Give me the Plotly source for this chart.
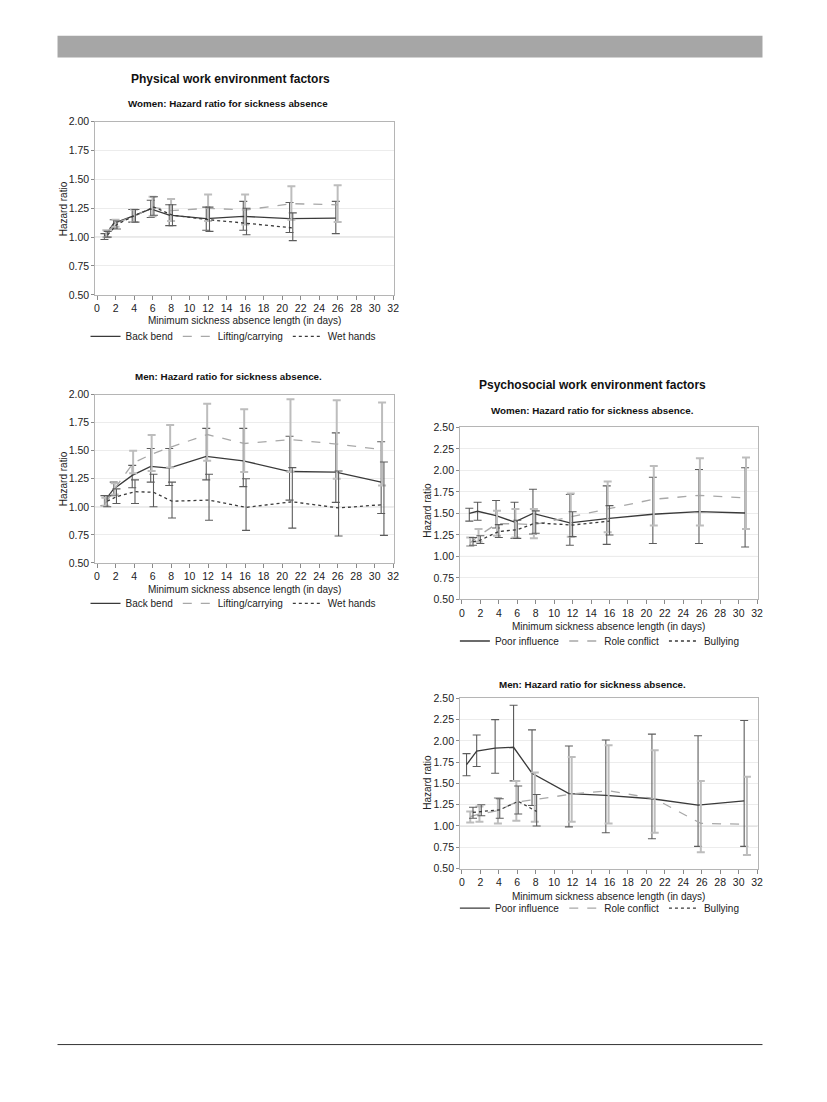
import numpy as np
import plotly.graph_objects as go

W, H = 827, 1102

# ---------------- DATA ----------------
# Panel 1: Physical, Women
p1_back_x = [0.8, 1.8, 3.8, 5.8, 7.8, 11.8, 15.8, 20.8, 25.8]
p1_back_y = [1.00, 1.12, 1.18, 1.245, 1.19, 1.16, 1.18, 1.16, 1.165]
p1_back_lo = [0.98, 1.08, 1.13, 1.17, 1.10, 1.06, 1.06, 1.04, 1.03]
p1_back_hi = [1.03, 1.15, 1.24, 1.32, 1.28, 1.26, 1.31, 1.30, 1.31]
p1_lift_x = [1.0, 2.0, 4.0, 6.0, 8.0, 12.0, 16.0, 21.0, 26.0]
p1_lift_y = [1.03, 1.12, 1.18, 1.26, 1.23, 1.25, 1.235, 1.29, 1.28]
p1_lift_lo = [1.00, 1.09, 1.13, 1.18, 1.14, 1.14, 1.11, 1.15, 1.13]
p1_lift_hi = [1.06, 1.15, 1.24, 1.35, 1.33, 1.37, 1.37, 1.44, 1.45]
p1_wet_x = [1.15, 2.15, 4.15, 6.15, 8.15, 12.15, 16.15, 21.15]
p1_wet_y = [1.02, 1.11, 1.19, 1.26, 1.19, 1.15, 1.12, 1.08]
p1_wet_lo = [1.00, 1.07, 1.13, 1.19, 1.10, 1.05, 1.02, 0.97]
p1_wet_hi = [1.05, 1.14, 1.24, 1.35, 1.28, 1.26, 1.25, 1.21]

# Panel 2: Physical, Men
p2_back_x = [0.8, 1.8, 3.8, 5.8, 7.8, 11.8, 15.8, 20.8, 25.8, 30.7]
p2_back_y = [1.05, 1.16, 1.28, 1.36, 1.345, 1.45, 1.41, 1.315, 1.31, 1.22]
p2_back_lo = [1.01, 1.10, 1.17, 1.22, 1.19, 1.24, 1.18, 1.06, 1.04, 0.94]
p2_back_hi = [1.10, 1.22, 1.37, 1.52, 1.52, 1.70, 1.70, 1.63, 1.66, 1.58]
p2_lift_x = [0.9, 1.9, 3.9, 5.9, 7.9, 11.9, 15.9, 20.9, 25.9, 30.8]
p2_lift_y = [1.03, 1.16, 1.39, 1.47, 1.53, 1.645, 1.565, 1.60, 1.56, 1.51]
p2_lift_lo = [1.01, 1.11, 1.30, 1.32, 1.35, 1.41, 1.31, 1.31, 1.25, 1.19]
p2_lift_hi = [1.08, 1.21, 1.50, 1.64, 1.73, 1.92, 1.87, 1.96, 1.95, 1.93]
p2_wet_x = [1.1, 2.1, 4.1, 6.1, 8.1, 12.1, 16.1, 21.1, 26.1, 31.0]
p2_wet_y = [1.05, 1.09, 1.135, 1.13, 1.05, 1.06, 0.995, 1.045, 0.99, 1.02]
p2_wet_lo = [1.00, 1.03, 1.03, 1.00, 0.90, 0.88, 0.79, 0.81, 0.74, 0.745]
p2_wet_hi = [1.10, 1.16, 1.24, 1.29, 1.22, 1.29, 1.25, 1.35, 1.32, 1.40]

# Panel 3: Psychosocial, Women
p3_poor_x = [0.8, 1.7, 3.7, 5.7, 7.7, 11.7, 15.7, 20.7, 25.7, 30.7]
p3_poor_y = [1.50, 1.525, 1.475, 1.40, 1.50, 1.39, 1.44, 1.49, 1.52, 1.505]
p3_poor_lo = [1.41, 1.42, 1.33, 1.21, 1.26, 1.13, 1.14, 1.15, 1.15, 1.11]
p3_poor_hi = [1.56, 1.63, 1.65, 1.63, 1.78, 1.72, 1.82, 1.92, 2.01, 2.03]
p3_role_x = [0.9, 1.8, 3.8, 5.8, 7.8, 11.8, 15.8, 20.8, 25.8, 30.8]
p3_role_y = [1.16, 1.24, 1.38, 1.38, 1.37, 1.46, 1.55, 1.665, 1.71, 1.68]
p3_role_lo = [1.12, 1.17, 1.24, 1.22, 1.21, 1.23, 1.28, 1.36, 1.36, 1.32]
p3_role_hi = [1.22, 1.32, 1.53, 1.55, 1.55, 1.73, 1.87, 2.05, 2.14, 2.15]
p3_bully_x = [1.2, 2.0, 4.0, 6.0, 8.0, 12.0, 16.0]
p3_bully_y = [1.17, 1.19, 1.29, 1.31, 1.39, 1.365, 1.41]
p3_bully_lo = [1.13, 1.15, 1.22, 1.21, 1.27, 1.23, 1.25]
p3_bully_hi = [1.22, 1.24, 1.37, 1.42, 1.53, 1.52, 1.59]

# Panel 4: Psychosocial, Men
p4_poor_x = [0.5, 1.6, 3.6, 5.6, 7.6, 11.6, 15.6, 20.6, 25.6, 30.6]
p4_poor_y = [1.72, 1.88, 1.915, 1.925, 1.62, 1.38, 1.36, 1.32, 1.245, 1.295]
p4_poor_lo = [1.59, 1.70, 1.62, 1.53, 1.24, 0.99, 0.92, 0.85, 0.76, 0.76]
p4_poor_hi = [1.85, 2.07, 2.25, 2.42, 2.13, 1.94, 2.01, 2.08, 2.06, 2.24]
p4_role_x = [0.9, 1.9, 3.9, 5.9, 7.9, 11.9, 15.9, 20.9, 25.9, 30.9]
p4_role_y = [1.11, 1.14, 1.18, 1.28, 1.31, 1.375, 1.415, 1.32, 1.03, 1.02]
p4_role_lo = [1.04, 1.05, 1.03, 1.06, 1.05, 1.05, 1.03, 0.92, 0.69, 0.66]
p4_role_hi = [1.17, 1.23, 1.33, 1.53, 1.63, 1.81, 1.95, 1.89, 1.53, 1.58]
p4_bully_x = [1.2, 2.1, 4.1, 6.1, 8.1]
p4_bully_y = [1.16, 1.17, 1.19, 1.29, 1.17]
p4_bully_lo = [1.09, 1.12, 1.09, 1.14, 1.00]
p4_bully_hi = [1.22, 1.25, 1.32, 1.47, 1.37]

phys_names = ["Back bend", "Lifting/carrying", "Wet hands"]
psy_names = ["Poor influence", "Role conflict", "Bullying"]

titles_main = ["Physical work environment factors", "Psychosocial work environment factors"]
sub_titles = ["Women: Hazard ratio for sickness absence",
              "Men: Hazard ratio for sickness absence.",
              "Women: Hazard ratio for sickness absence.",
              "Men: Hazard ratio for sickness absence."]
x_title = "Minimum sickness absence length (in days)"
y_title = "Hazard ratio"

# ---------------- STYLE ----------------
FONT = "Liberation Sans, Arial, sans-serif"
DARK = "#3a3a3a"
DARKBAR = "#5c5c5c"
LIGHT = "#a8a8a8"
LIGHTBAR = "#bdbdbd"
styles = [
    dict(color=DARK, dash="solid", bar=DARKBAR, bw=1.1),
    dict(color=LIGHT, dash="dash", bar=LIGHTBAR, bw=2.0),
    dict(color=DARK, dash="dot", bar=DARKBAR, bw=1.1),
]

# panel pixel boxes: (x0, x1, ytop, ybottom, ymin, ymax)
panels = [
    (95, 396, 117, 292, 0.5, 2.0),
    (95, 396, 393, 563, 0.5, 2.0),
    (463, 763, 426, 600, 0.5, 2.5),
    (463, 763, 700, 872, 0.5, 2.5),
]

panel_data = [
    (phys_names, [(p1_back_x, p1_back_y, p1_back_lo, p1_back_hi),
                  (p1_lift_x, p1_lift_y, p1_lift_lo, p1_lift_hi),
                  (p1_wet_x, p1_wet_y, p1_wet_lo, p1_wet_hi)]),
    (phys_names, [(p2_back_x, p2_back_y, p2_back_lo, p2_back_hi),
                  (p2_lift_x, p2_lift_y, p2_lift_lo, p2_lift_hi),
                  (p2_wet_x, p2_wet_y, p2_wet_lo, p2_wet_hi)]),
    (psy_names, [(p3_poor_x, p3_poor_y, p3_poor_lo, p3_poor_hi),
                 (p3_role_x, p3_role_y, p3_role_lo, p3_role_hi),
                 (p3_bully_x, p3_bully_y, p3_bully_lo, p3_bully_hi)]),
    (psy_names, [(p4_poor_x, p4_poor_y, p4_poor_lo, p4_poor_hi),
                 (p4_role_x, p4_role_y, p4_role_lo, p4_role_hi),
                 (p4_bully_x, p4_bully_y, p4_bully_lo, p4_bully_hi)]),
]

legend_pos = [(234, 334), (234, 604), (604, 642), (604, 912)]
xtitle_y = [318, 590, 627, 900]
ytitle_pos = [(63, 205), (63, 478), (430, 510), (430, 785)]
subtitle_pos = [(229, 99), (229, 375), (597, 409), (597, 686)]
main_title_pos = [(231, 74), (597, 383)]


def px(x):
    return x / W


def py(y):
    return 1 - y / H


fig = go.Figure()
layout = dict()
annotations = []
shapes = []

for i, ((x0, x1, yt, yb, ymin, ymax), (names, series)) in enumerate(zip(panels, panel_data)):
    n = i + 1
    xa = "x" if n == 1 else f"x{n}"
    ya = "y" if n == 1 else f"y{n}"
    leg = "legend" if n == 1 else f"legend{n}"
    for (sx, sy, slo, shi), name, st in zip(series, names, styles):
        sy_a = np.array(sy)
        fig.add_trace(go.Scatter(
            x=sx, y=sy, name=name, mode="lines", xaxis=xa, yaxis=ya, legend=leg,
            line=dict(color=st["color"], dash=st["dash"], width=1.3),
            error_y=dict(type="data", symmetric=False,
                         array=np.array(shi) - sy_a, arrayminus=sy_a - np.array(slo),
                         color=st["bar"], thickness=st["bw"], width=4),
            hoverinfo="skip",
        ))
    axkey = "xaxis" if n == 1 else f"xaxis{n}"
    aykey = "yaxis" if n == 1 else f"yaxis{n}"
    layout[axkey] = dict(
        domain=[px(x0), px(x1)], anchor=ya, range=[-0.2, 32.05],
        tickmode="linear", tick0=0, dtick=2, ticks="outside", ticklen=4,
        tickcolor="#8a8a8a", showgrid=False, zeroline=False,
        showline=True, mirror=True, linecolor="#b5b5b5", linewidth=1,
        tickfont=dict(family=FONT, size=10.5, color="#222"),
    )
    layout[aykey] = dict(
        domain=[py(yb), py(yt)], anchor=xa, range=[ymin, ymax],
        tickmode="linear", tick0=0.5, dtick=0.25, tickformat=".2f",
        ticks="outside", ticklen=3, tickcolor="#8a8a8a",
        showgrid=True, gridcolor="#ececec", gridwidth=1, zeroline=False,
        showline=True, mirror=True, linecolor="#b5b5b5", linewidth=1,
        tickfont=dict(family=FONT, size=10.5, color="#222"),
    )
    # reference line at HR = 1
    shapes.append(dict(type="line", xref=f"{xa} domain", yref=ya, x0=0, x1=1, y0=1, y1=1,
                       line=dict(color="#c4c4c4", width=1), layer="below"))
    lx, ly = legend_pos[i]
    layout[leg] = dict(orientation="h", x=px(lx), y=py(ly), xanchor="center", yanchor="middle",
                       font=dict(family=FONT, size=10, color="#222"), bgcolor="rgba(0,0,0,0)",
                       itemwidth=30, tracegroupgap=0)
    annotations.append(dict(text=x_title, x=px((x0 + x1) / 2), y=py(xtitle_y[i]), xref="paper", yref="paper",
                            showarrow=False, xanchor="center", yanchor="middle",
                            font=dict(family=FONT, size=10, color="#222")))
    tx, ty = ytitle_pos[i]
    annotations.append(dict(text=y_title, x=px(tx), y=py(ty), xref="paper", yref="paper", textangle=-90,
                            showarrow=False, xanchor="center", yanchor="middle",
                            font=dict(family=FONT, size=10, color="#222")))
    sx_, sy_ = subtitle_pos[i]
    annotations.append(dict(text=f"<b>{sub_titles[i]}</b>", x=px(sx_), y=py(sy_), xref="paper", yref="paper",
                            showarrow=False, xanchor="center", yanchor="middle",
                            font=dict(family=FONT, size=9.8, color="#111")))

for t, (mx, my) in zip(titles_main, main_title_pos):
    annotations.append(dict(text=f"<b>{t}</b>", x=px(mx), y=py(my), xref="paper", yref="paper",
                            showarrow=False, xanchor="center", yanchor="middle",
                            font=dict(family=FONT, size=12, color="#111")))

# page decoration: header band and footer rule
shapes.append(dict(type="rect", xref="paper", yref="paper", x0=px(57), x1=px(768), y0=py(52), y1=py(30),
                   fillcolor="#a6a6a6", line=dict(width=0), layer="below"))
shapes.append(dict(type="line", xref="paper", yref="paper", x0=px(57), x1=px(768), y0=py(1050), y1=py(1050),
                   line=dict(color="#333", width=1)))

fig.update_layout(
    width=W, height=H, margin=dict(l=0, r=0, t=0, b=0),
    paper_bgcolor="white", plot_bgcolor="white",
    annotations=annotations, shapes=shapes, showlegend=True,
    **layout,
)

post = (
    "document.documentElement.style.margin='0';"
    "document.documentElement.style.overflow='hidden';"
    "document.body.style.margin='0';document.body.style.padding='0';"
    "document.body.style.overflow='hidden';"
    "var d=document.getElementById('{plot_id}');"
    "d.style.position='absolute';d.style.left='0px';d.style.top='0px';"
)

fig.write_html("out.html", config={"displayModeBar": False}, post_script=post)
